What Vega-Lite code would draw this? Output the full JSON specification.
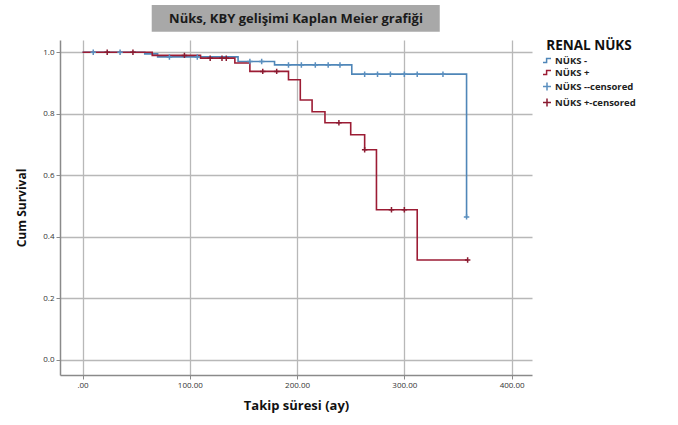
{
  "$schema": "https://vega.github.io/schema/vega-lite/v6.json",
  "width": 472,
  "height": 335,
  "autosize": {"type": "none"},
  "padding": {"left": 60, "top": 40, "right": 146, "bottom": 50},
  "background": "white",
  "config": {
    "view": {"stroke": null},
    "font": "Open Sans",
    "axis": {
      "domainColor": "#8a8a8a", "domainWidth": 1.5,
      "gridColor": "#b8b8b8", "gridWidth": 1.3,
      "tickColor": "#8a8a8a", "tickSize": 4,
      "labelFont": "Open Sans", "labelFontSize": 8, "labelColor": "#333",
      "titleFont": "Open Sans", "titleFontWeight": "bold", "titleColor": "#111"
    }
  },
  "data": {
    "values": [
      {"grp": "NÜKS -", "t": 0, "s": 1.0},
      {"grp": "NÜKS -", "t": 58, "s": 0.995},
      {"grp": "NÜKS -", "t": 70, "s": 0.985},
      {"grp": "NÜKS -", "t": 145, "s": 0.97},
      {"grp": "NÜKS -", "t": 179, "s": 0.959},
      {"grp": "NÜKS -", "t": 251, "s": 0.929},
      {"grp": "NÜKS -", "t": 358, "s": 0.465},
      {"grp": "NÜKS +", "t": 0, "s": 1.0},
      {"grp": "NÜKS +", "t": 65, "s": 0.99},
      {"grp": "NÜKS +", "t": 110, "s": 0.981},
      {"grp": "NÜKS +", "t": 142, "s": 0.965},
      {"grp": "NÜKS +", "t": 156, "s": 0.938},
      {"grp": "NÜKS +", "t": 192, "s": 0.911},
      {"grp": "NÜKS +", "t": 203, "s": 0.845},
      {"grp": "NÜKS +", "t": 214, "s": 0.807},
      {"grp": "NÜKS +", "t": 226, "s": 0.771},
      {"grp": "NÜKS +", "t": 250, "s": 0.732},
      {"grp": "NÜKS +", "t": 263, "s": 0.683},
      {"grp": "NÜKS +", "t": 274, "s": 0.488},
      {"grp": "NÜKS +", "t": 312, "s": 0.325},
      {"grp": "NÜKS +", "t": 359, "s": 0.325},
      {"grp": "NÜKS --censored", "t": 10, "s": 1.0},
      {"grp": "NÜKS --censored", "t": 35, "s": 1.0},
      {"grp": "NÜKS --censored", "t": 81, "s": 0.985},
      {"grp": "NÜKS --censored", "t": 107, "s": 0.985},
      {"grp": "NÜKS --censored", "t": 156, "s": 0.97},
      {"grp": "NÜKS --censored", "t": 167, "s": 0.97},
      {"grp": "NÜKS --censored", "t": 192, "s": 0.959},
      {"grp": "NÜKS --censored", "t": 204, "s": 0.959},
      {"grp": "NÜKS --censored", "t": 217, "s": 0.959},
      {"grp": "NÜKS --censored", "t": 229, "s": 0.959},
      {"grp": "NÜKS --censored", "t": 240, "s": 0.959},
      {"grp": "NÜKS --censored", "t": 263, "s": 0.929},
      {"grp": "NÜKS --censored", "t": 275, "s": 0.929},
      {"grp": "NÜKS --censored", "t": 287, "s": 0.929},
      {"grp": "NÜKS --censored", "t": 300, "s": 0.929},
      {"grp": "NÜKS --censored", "t": 312, "s": 0.929},
      {"grp": "NÜKS --censored", "t": 336, "s": 0.929},
      {"grp": "NÜKS --censored", "t": 358, "s": 0.465},
      {"grp": "NÜKS +-censored", "t": 23, "s": 1.0},
      {"grp": "NÜKS +-censored", "t": 47, "s": 1.0},
      {"grp": "NÜKS +-censored", "t": 95, "s": 0.99},
      {"grp": "NÜKS +-censored", "t": 119, "s": 0.981},
      {"grp": "NÜKS +-censored", "t": 130, "s": 0.981},
      {"grp": "NÜKS +-censored", "t": 134, "s": 0.981},
      {"grp": "NÜKS +-censored", "t": 168, "s": 0.938},
      {"grp": "NÜKS +-censored", "t": 181, "s": 0.938},
      {"grp": "NÜKS +-censored", "t": 239, "s": 0.771},
      {"grp": "NÜKS +-censored", "t": 263, "s": 0.683},
      {"grp": "NÜKS +-censored", "t": 288, "s": 0.488},
      {"grp": "NÜKS +-censored", "t": 300, "s": 0.488},
      {"grp": "NÜKS +-censored", "t": 359, "s": 0.325}
    ]
  },
  "encoding": {
    "x": {
      "field": "t", "type": "quantitative",
      "scale": {"domain": [-21, 419], "nice": false, "zero": false},
      "axis": {
        "values": [0, 100, 200, 300, 400],
        "labelExpr": "datum.value == 0 ? '.00' : format(datum.value, '.2f')",
        "title": "Takip süresi (ay)", "titleFontSize": 13, "titlePadding": 10
      }
    },
    "y": {
      "field": "s", "type": "quantitative",
      "scale": {"domain": [-0.049, 1.04], "nice": false, "zero": false},
      "axis": {
        "values": [0, 0.2, 0.4, 0.6, 0.8, 1.0],
        "format": ".1f",
        "title": "Cum Survival", "titleFontSize": 12, "titlePadding": 14
      }
    }
  },
  "layer": [
    {
      "transform": [{"filter": "datum.grp == 'NÜKS -' && datum.t == 0"}],
      "mark": {"type": "rect", "fill": "#a8a8a8", "stroke": null, "clip": false},
      "encoding": {
        "x": {"datum": 64.5},
        "x2": {"datum": 333},
        "y": {"datum": 1.154},
        "y2": {"datum": 1.067}
      }
    },
    {
      "transform": [{"filter": "datum.grp == 'NÜKS -' && datum.t == 0"}],
      "mark": {"type": "text", "clip": false, "font": "Open Sans", "fontSize": 13, "fontWeight": "bold", "fill": "#1a1a1a", "align": "center", "baseline": "middle"},
      "encoding": {
        "x": {"datum": 199},
        "y": {"datum": 1.109},
        "text": {"value": "Nüks, KBY gelişimi Kaplan Meier grafiği"}
      }
    },
    {
      "transform": [{"filter": "datum.grp == 'NÜKS -' || datum.grp == 'NÜKS +'"}],
      "mark": {"type": "line", "interpolate": "step-after", "strokeWidth": 1.6},
      "encoding": {
        "color": {"field": "grp", "type": "nominal"},
        "detail": {"field": "grp"}
      }
    },
    {
      "transform": [{"filter": "datum.grp == 'NÜKS --censored' || datum.grp == 'NÜKS +-censored'"}],
      "mark": {"type": "point", "filled": false, "strokeWidth": 1.5, "size": 30, "opacity": 1},
      "encoding": {
        "color": {
          "field": "grp", "type": "nominal",
          "scale": {
            "domain": ["NÜKS -", "NÜKS +", "NÜKS --censored", "NÜKS +-censored"],
            "range": ["#4f86b8", "#9c1c34", "#5a8fbf", "#8a1a30"]
          },
          "legend": {
            "title": "RENAL NÜKS",
            "orient": "none", "legendX": 482, "legendY": -1,
            "titleFont": "Open Sans", "titleFontSize": 13.5, "titleFontWeight": "bold", "titleColor": "#111",
            "titleAnchor": "middle", "titlePadding": 3,
            "labelFont": "Open Sans", "labelFontSize": 9.5, "labelFontWeight": "bold", "labelColor": "#222",
            "symbolSize": 64, "symbolStrokeWidth": 1.5, "rowPadding": 2, "labelOffset": 3
          }
        },
        "shape": {
          "field": "grp", "type": "nominal",
          "scale": {
            "domain": ["NÜKS -", "NÜKS +", "NÜKS --censored", "NÜKS +-censored"],
            "range": ["M-1,0.5H-0.1V-0.5H1", "M-1,0.5H-0.1V-0.5H1", "M-1,0H1M0,-1V1", "M-1,0H1M0,-1V1"]
          },
          "legend": {
            "title": "RENAL NÜKS",
            "orient": "none", "legendX": 482, "legendY": -1
          }
        }
      }
    }
  ]
}
